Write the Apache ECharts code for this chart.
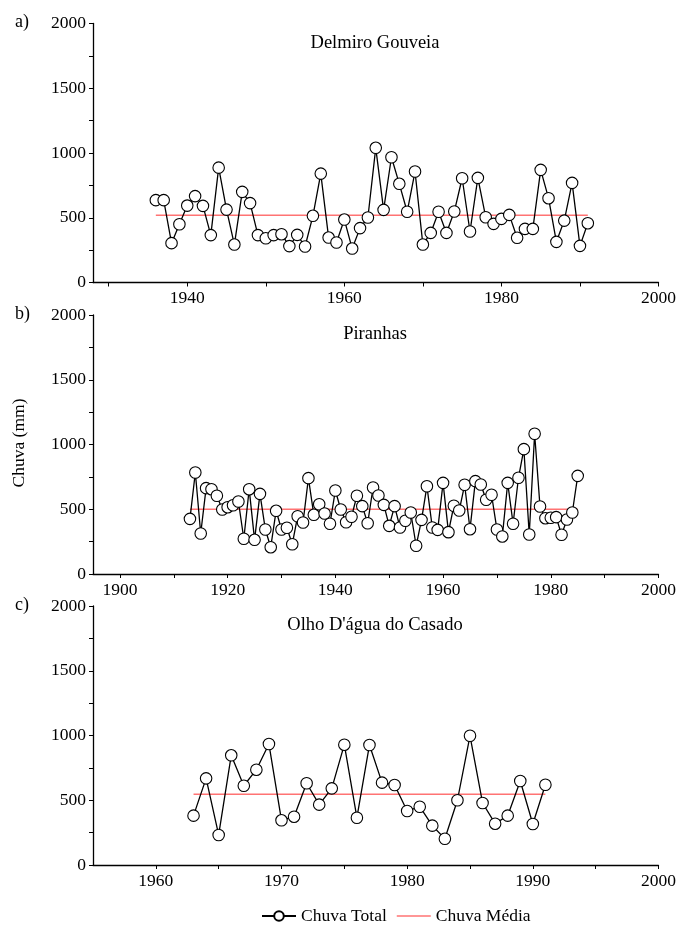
<!DOCTYPE html>
<html>
<head>
<meta charset="utf-8">
<script src="https://cdn.jsdelivr.net/npm/echarts@6/dist/echarts.min.js"></script>
<style>
  html, body { margin: 0; padding: 0; background: #fff; }
  #chart { width: 679px; height: 928px; }
</style>
</head>
<body>
<div id="chart"></div>
<script>
// Annual rainfall (mm) for three stations, with each station's long-term mean
const stationNames = ['Delmiro Gouveia', 'Piranhas', "Olho D'água do Casado"];
const panelLetters = ['a)', 'b)', 'c)'];

const startA = 1936;
const rainA = [636, 636, 304, 450, 594, 667, 592, 366, 887, 563, 293, 700, 613, 366, 342,
  366, 373, 281, 368, 278, 515, 841, 347, 309, 486, 262, 420, 502, 1040, 561, 967, 762,
  546, 857, 293, 383, 546, 383, 548, 805, 394, 808, 504, 453, 491, 522, 345, 414, 414,
  870, 651, 314, 478, 769, 283, 458];
const meanA = 520;

const startB = 1913;
const rainB = [426, 784, 313, 663, 655, 604, 498, 516, 531, 560, 272, 655, 264, 619, 344,
  207, 488, 344, 357, 230, 446, 398, 740, 457, 539, 467, 388, 645, 498, 400, 442, 604,
  524, 392, 668, 606, 534, 372, 524, 359, 411, 475, 218, 418, 678, 359, 341, 704, 323,
  527, 490, 689, 346, 717, 691, 573, 612, 344, 290, 704, 388, 743, 964, 305, 1083, 521,
  431, 434, 439, 303, 421, 475, 758];
const meanB = 500;

const startC = 1963;
const rainC = [381, 669, 232, 847, 612, 736, 934, 345, 373, 631, 466, 592, 929, 365, 927,
  636, 618, 417, 450, 304, 203, 500, 998, 479, 319, 381, 649, 317, 620];
const meanC = 546;

// Axis extents and tick positions per panel
const xMin = [1928, 1895, 1955];
const xMax = [2000, 2000, 2000];
const xLabelsA = [1940, 1960, 1980, 2000];
const xTicksA = [1930, 1940, 1950, 1960, 1970, 1980, 1990, 2000];
const xLabelsB = [1900, 1920, 1940, 1960, 1980, 2000];
const xTicksB = [1900, 1910, 1920, 1930, 1940, 1950, 1960, 1970, 1980, 1990, 2000];
const xLabelsC = [1960, 1970, 1980, 1990, 2000];
const xTicksC = [1960, 1965, 1970, 1975, 1980, 1985, 1990, 1995, 2000];

const serif = "'Liberation Serif', 'Times New Roman', serif";

function pairs(start, values) {
  return values.map((v, i) => [start + i, v]);
}

const totals = [pairs(startA, rainA), pairs(startB, rainB), pairs(startC, rainC)];
const means = [meanA, meanB, meanC];
const xLabels = [xLabelsA, xLabelsB, xLabelsC];
const xTicks = [xTicksA, xTicksB, xTicksC];

const gridTops = [23.5, 315, 606];
const gridHeight = 259;

const grids = [], xAxes = [], yAxes = [], series = [], titles = [], texts = [];
const plain = v => String(v);

for (let i = 0; i < 3; i++) {
  grids.push({ left: 93, right: 18, top: gridTops[i], height: gridHeight });
  xAxes.push({
    type: 'value', gridIndex: i, min: xMin[i], max: xMax[i],
    axisLine: { show: true, onZero: false, lineStyle: { color: '#000', width: 1.3 } },
    axisTick: { show: true, length: 4, customValues: xTicks[i], lineStyle: { color: '#000', width: 1 } },
    axisLabel: { customValues: xLabels[i], formatter: plain, color: '#000', fontFamily: serif, fontSize: 17.5, margin: 7 },
    splitLine: { show: false }
  });
  yAxes.push({
    type: 'value', gridIndex: i, min: 0, max: 2000, interval: 500,
    axisLine: { show: true, lineStyle: { color: '#000', width: 1.3 } },
    axisTick: { show: true, length: 4, lineStyle: { color: '#000', width: 1 } },
    minorTick: { show: true, splitNumber: 2, length: 4, lineStyle: { color: '#000', width: 1 } },
    axisLabel: { formatter: plain, color: '#000', fontFamily: serif, fontSize: 17.5, margin: 7 },
    splitLine: { show: false }
  });
  const first = totals[i][0][0];
  const last = totals[i][totals[i].length - 1][0];
  series.push({
    name: 'Chuva Média', type: 'line', xAxisIndex: i, yAxisIndex: i,
    data: [[first, means[i]], [last, means[i]]],
    symbol: 'none', z: 1, silent: true,
    lineStyle: { color: '#ff7373', width: 1.5 },
    itemStyle: { color: '#ff7373' }
  });
  series.push({
    name: 'Chuva Total', type: 'line', xAxisIndex: i, yAxisIndex: i,
    data: totals[i], symbol: 'circle', symbolSize: 11.5, z: 2, silent: true,
    lineStyle: { color: '#000', width: 1.3 },
    itemStyle: { color: '#fff', borderColor: '#000', borderWidth: 1.1 },
    emphasis: { disabled: true }
  });
  titles.push({
    text: stationNames[i], left: 370, top: gridTops[i] + 5, textAlign: 'center',
    textStyle: { fontFamily: serif, fontSize: 18.5, fontWeight: 'normal', color: '#000' }
  });
  texts.push({
    type: 'text', x: 15, y: gridTops[i] - 1,
    style: { text: panelLetters[i], font: '18px ' + serif, fill: '#000', textVerticalAlign: 'middle' }
  });
}

texts.push({
  type: 'text', x: 19, y: 443, rotation: Math.PI / 2,
  style: { text: 'Chuva (mm)', font: '17.5px ' + serif, fill: '#000', textAlign: 'center', textVerticalAlign: 'middle' }
});

const chart = echarts.init(document.getElementById('chart'), null, { renderer: 'canvas' });
chart.setOption({
  animation: false,
  backgroundColor: '#fff',
  title: titles,
  grid: grids,
  xAxis: xAxes,
  yAxis: yAxes,
  series: series,
  legend: {
    data: [
      { name: 'Chuva Total' },
      { name: 'Chuva Média', icon: 'path://M0,0H34V1.5H0Z' }
    ],
    left: 256, top: 902, itemWidth: 34, itemHeight: 12, itemGap: 10,
    symbolKeepAspect: true,
    textStyle: { fontFamily: serif, fontSize: 17.5, color: '#000', padding: [0, 0, 0, 0] }
  },
  graphic: texts
});
</script>
</body>
</html>
